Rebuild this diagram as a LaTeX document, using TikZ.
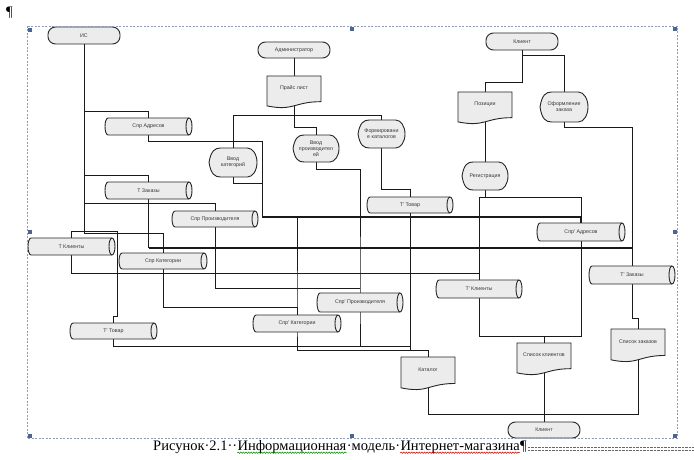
\documentclass[tikz,border=0pt]{standalone}
\usepackage{fontspec}
\setmainfont{Liberation Serif}
\newfontfamily\lsans{Liberation Sans}
\usetikzlibrary{backgrounds,decorations.pathmorphing}
\definecolor{sfill}{HTML}{ECECEC}
\definecolor{sline}{HTML}{262626}
\definecolor{wirec}{HTML}{1A1A1A}
\definecolor{selc}{HTML}{8C9CB8}
\definecolor{hdl}{HTML}{4C6494}
\tikzset{
  shp/.style={draw=sline, fill=sfill, line width=0.9pt},
  lbl/.style={font=\lsans\fontsize{5.3}{5.8}\selectfont, text=black!78, align=center, inner sep=0pt},
  termbox/.style={shp, lbl, rounded corners=7.5pt},
  wire/.style={draw=wirec, line width=1pt},
  heavywire/.style={draw=wirec, line width=1.25pt},
  capt/.style={font=\fontsize{14.5}{16}\selectfont, inner sep=0pt, anchor=base west},
}
% terminator: name x1 y1 x2 y2 text
\newcommand\termnode[6]{%
  \node[termbox, minimum width={(#4-#2)*1pt}, minimum height={(#5-#3)*1pt}] (#1) at ({(#2+#4)/2},{(#3+#5)/2}) {#6};}
% horizontal cylinder
\newcommand\cylbox[6]{%
  \filldraw[shp] (#2+3,#3) -- (#4-3,#3) arc[start angle=-90,end angle=90,x radius=3,y radius={(#5-#3)/2}] -- (#2+3,#5) arc[start angle=90,end angle=270,x radius=3,y radius={(#5-#3)/2}] -- cycle;
  \draw[shp,fill=none] (#4-3,#3) arc[start angle=-90,end angle=-270,x radius=3,y radius={(#5-#3)/2}];
  \node[lbl, minimum width={(#4-#2)*1pt}, minimum height={(#5-#3)*1pt}] (#1) at ({(#2+#4)/2},{(#3+#5)/2}) {#6};}
% document shape
\newcommand\docbox[6]{%
  \filldraw[shp] (#2,#3) -- (#4,#3) -- (#4,{#3+0.802*(#5-#3)}) .. controls ({(#2+#4)/2},{#3+0.802*(#5-#3)}) and ({(#2+#4)/2},{#3+1.107*(#5-#3)}) .. (#2,{#3+0.934*(#5-#3)}) -- cycle;
  \node[lbl, minimum width={(#4-#2)*1pt}, minimum height={0.75*(#5-#3)*1pt}] (#1) at ({(#2+#4)/2},{#3+0.375*(#5-#3)}) {#6};}
% display shape
\newcommand\dispbox[6]{%
  \filldraw[shp] (#2,{(#3+#5)/2}) .. controls ({#2+0.04*(#4-#2)},{#3+0.1*(#5-#3)}) and ({#2+0.12*(#4-#2)},#3) .. ({#2+0.24*(#4-#2)},#3) -- ({#4-0.2*(#4-#2)},#3) arc[start angle=-90,end angle=90,x radius={0.2*(#4-#2)},y radius={(#5-#3)/2}] -- ({#2+0.24*(#4-#2)},#5) .. controls ({#2+0.12*(#4-#2)},#5) and ({#2+0.04*(#4-#2)},{#5-0.1*(#5-#3)}) .. (#2,{(#3+#5)/2}) -- cycle;
  \node[lbl, minimum width={(#4-#2)*1pt}, minimum height={(#5-#3)*1pt}] (#1) at ({(#2+#4)/2},{(#3+#5)/2}) {#6};}
\begin{document}
\begin{tikzpicture}[x=1pt,y=-1pt]
\useasboundingbox (0,0) rectangle (694,460);
\begin{pgfonlayer}{background}
  \fill[white] (0,0) rectangle (694,460);
\end{pgfonlayer}

% terminators
\termnode{ic}{48}{27}{120}{44}{ИС}
\termnode{adm}{258}{42}{330}{58}{Администратор}
\termnode{kla}{486}{33}{558}{50}{Клиент}
\termnode{klb}{508}{422}{580}{438}{Клиент}

% documents
\docbox{price}{267}{76}{321}{108}{Прайс лист}
\docbox{pos}{458}{92}{512}{124}{Позиции}
\docbox{katalog}{401}{357}{455}{390}{Каталог}
\docbox{spkl}{517}{343}{571}{375}{Список клиентов}
\docbox{spzak}{611}{329}{665}{362}{Список заказов}

% display (process) shapes
\dispbox{ofz}{540}{92}{588}{122}{Оформление\\заказа}
\dispbox{fk}{358}{120}{405}{148}{Формировани\\е каталогов}
\dispbox{vk}{209}{148}{257}{177}{Ввод\\категорий}
\dispbox{vp}{293}{135}{339}{162}{Ввод\\производител\\ей}
\dispbox{reg}{462}{162}{508}{190}{Регистрация}

% tables (cylinders)
\cylbox{sadr}{105}{118}{192}{135}{Спр Адресов}
\cylbox{tzak}{105}{182}{192}{199}{Т Заказы}
\cylbox{sproiz}{172}{211}{258}{227}{Спр Производителя}
\cylbox{tkl}{28}{238}{115}{255}{Т Клиенты}
\cylbox{skat}{119}{253}{207}{269}{Спр Категории}
\cylbox{ttova}{70}{323}{157}{339}{Т' Товар}
\cylbox{skatb}{253}{315}{341}{332}{Спр' Категории}
\cylbox{sproizb}{317}{293}{403}{312}{Спр' Производителя}
\cylbox{ttovb}{367}{197}{453}{213}{Т' Товар}
\cylbox{sadrb}{537}{223}{625}{241}{Спр' Адресов}
\cylbox{tklb}{436}{280}{522}{298}{Т' Клиенты}
\cylbox{tzakb}{589}{266}{675}{284}{Т' Заказы}

% connectors
\begin{pgfonlayer}{background}
  \draw[wire] (ic.center) |- (163,233) -- (skat.center);
  \draw[wire] (84,112) -| (sadr.center);
  \draw[wire] (sadr.center) |- (262,141) -- (262,217);
  \draw[heavywire] (262,217) -| (sadrb.center);
  \draw[wire] (84,175) -| (tzak.center);
  \draw[wire] (tzak.center) -- (148.5,248);
  \draw[heavywire] (148.5,248) -- (632,248);
  \draw[wire] (84,203) -| (sproiz.center);
  \draw[wire] (sproiz.center) |- (360,288);
  \draw[wire] (tkl.center) |- (117,231) -- (117,316) -- (113.5,316) -- (ttova.center);
  \draw[wire] (tkl.center) |- (479,273) -- (tklb.center);
  \draw[wire] (ttova.center) |- (410,346);
  \draw[wire] (ttovb.center) -- (410,350) -| (katalog.center);
  \draw[wire] (297,217) -- (skatb.center) -- (297,350) -- (410,350);
  \draw[wire] (skat.center) |- (skatb.center |- 0,307) -- (skatb.center);
  \draw[wire] (adm.center) -- (price.center);
  \draw[wire] (price.center) |- (316,127) -- (vp.center);
  \draw[wire] (vk.center) -- (233,115) -| (fk.center);
  \draw[wire] (vk.center) |- (262,183);
  \draw[wire] (vp.center) |- (360,169) -- (sproizb.center) -- (360,346);
  \draw[wire] (fk.center) |- (410,189) -- (ttovb.center);
  \draw[wire] (kla.center) -- (522,83) -| (pos.center);
  \draw[wire] (522,56) -| (ofz.center);
  \draw[wire] (ofz.center) |- (632,127) -- (tzakb.center);
  \draw[wire] (tzakb.center) -- (632,318) -- (638,318) -- (spzak.center);
  \draw[wire] (pos.center) -- (reg.center);
  \draw[wire] (reg.center) -- (485,197);
  \draw[wire] (479,197) rectangle (581,336);
  \draw[wire] (544,336) -- (spkl.center);
  \draw[wire] (spkl.center) -- (klb.center);
  \draw[wire] (katalog.center) |- (638,414) -- (spzak.center);
\end{pgfonlayer}

% Word selection frame and handles
\draw[selc, line width=0.6pt, dash pattern=on 2pt off 1.5pt] (27,26) rectangle (677,438);
\foreach \hx/\hy in {30/30,352/29,675/29,30/232,675/232,30/436,352/436,675/436}
  \fill[hdl] (\hx-2,\hy-2) rectangle (\hx+2,\hy+2);

% paragraph mark and caption
\node[capt] (pil) at (6,16.5) {¶};
\node[capt] (c1) at (153,450.5) {Рисунок·2.1··};
\node[capt] (c2) at (c1.base east) {Информационная};
\node[capt] (c3) at (c2.base east) {·модель·};
\node[capt] (c4) at (c3.base east) {Интернет-магазина};
\node[capt] (c5) at (c4.base east) {¶};
\draw[green!55!black, line width=0.5pt, decorate, decoration={snake, amplitude=0.7pt, segment length=2.6pt}]
  ([yshift=-2.2pt]c2.base west) -- ([yshift=-2.2pt]c2.base east);
\draw[red!80!black, line width=0.5pt, decorate, decoration={snake, amplitude=0.7pt, segment length=2.6pt}]
  ([yshift=-2.2pt]c4.base west) -- ([yshift=-2.2pt]c4.base east);
\draw[black!60, line width=0.5pt, dash pattern=on 0.7pt off 0.7pt] ([xshift=1pt]c5.east |- 0,447.5) -- (694,447.5);
\draw[black!60, line width=0.5pt, dash pattern=on 0.7pt off 0.7pt] ([xshift=1pt]c5.east |- 0,450.5) -- (694,450.5);
\end{tikzpicture}
\end{document}
